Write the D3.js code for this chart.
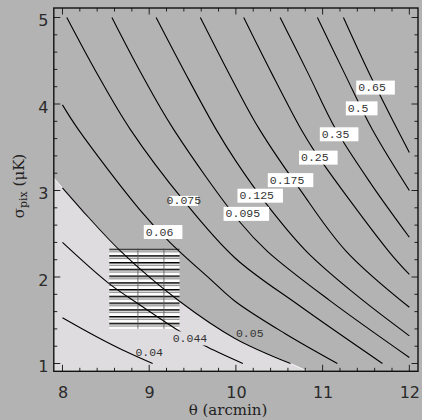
<!DOCTYPE html>
<html lang="en">
<head>
<meta charset="utf-8">
<title>sigma_pix vs theta contours</title>
<script src="https://cdn.jsdelivr.net/npm/d3@7"></script>
<style>
  body { margin: 0; background: #b3b3b3; }
  svg { display: block; }
  text { -webkit-font-smoothing: antialiased; }
</style>
</head>
<body>
<script>
// axis ranges and ticks
var thetaRange = [7.9, 12.1];
var sigmaRange = [0.91, 5.11];
var xTicks = [8, 9, 10, 11, 12];
var yTicks = [1, 2, 3, 4, 5];

// contour levels, and each line as [theta, sigma]
var levels = [0.04, 0.044, 0.05, 0.06, 0.075, 0.095, 0.125, 0.175, 0.25, 0.35, 0.5, 0.65];
var c040 = [[8.0,1.53],[8.23,1.40],[8.47,1.27],[8.75,1.13],[9.04,1.0]];
var c044 = [[8.0,2.40],[8.53,1.93],[8.89,1.68],[9.34,1.38],[9.63,1.21],[10.08,1.0]];
var c050 = [[8.0,3.03],[8.22,2.78],[8.67,2.30],[9.35,1.72],[9.99,1.29],[10.63,1.0]];
var c060 = [[8.0,3.99],[8.18,3.71],[8.89,2.78],[9.23,2.41],[9.71,1.97],[9.99,1.72],[10.56,1.35],[11.17,1.0]];
var c075 = [[8.05,5.0],[8.40,4.35],[8.78,3.71],[9.40,2.88],[9.99,2.22],[10.73,1.67],[11.69,1.0]];
var c095 = [[8.57,5.0],[8.91,4.35],[9.28,3.71],[10.05,2.63],[10.36,2.30],[11.08,1.73],[12.0,1.07]];
var c125 = [[9.08,5.0],[9.42,4.35],[9.77,3.71],[10.0,3.34],[10.34,2.86],[10.81,2.30],[11.39,1.79],[12.0,1.32]];
var c175 = [[9.59,5.0],[10.0,4.20],[10.27,3.71],[10.74,3.01],[11.27,2.30],[12.0,1.65]];
var c250 = [[10.09,5.0],[10.41,4.36],[10.75,3.71],[10.91,3.45],[11.76,2.30],[12.0,2.03]];
var c350 = [[10.51,5.0],[10.83,4.36],[11.15,3.71],[11.57,3.06],[12.0,2.46]];
var c500 = [[10.94,5.0],[11.25,4.36],[11.57,3.71],[12.0,3.0]];
var c650 = [[11.24,5.0],[11.54,4.35],[11.86,3.71],[12.0,3.44]];
var contourLines = [c040, c044, c050, c060, c075, c095, c125, c175, c250, c350, c500, c650];

// where each level's label sits (centre of text)
var labelTheta = [9.0, 9.47, 10.16, 9.12, 9.40, 10.08, 10.24, 10.59, 10.91, 11.15, 11.41, 11.57];
var labelSigma = [1.125, 1.29, 1.35, 2.52, 2.88, 2.73, 2.94, 3.12, 3.38, 3.65, 3.95, 4.19];

// the hatched box
var boxTheta = [8.54, 9.35];
var boxSigma = [1.40, 2.33];
var boxDividers = [8.87, 9.17];

var W = 422, H = 420;
var GRAY = "#b3b3b3", LIGHT = "#dfdcdf";

var svg = d3.select("body").append("svg").attr("width", W).attr("height", H);
svg.append("rect").attr("width", W).attr("height", H).attr("fill", GRAY);

var x = d3.scaleLinear().domain(thetaRange).range([53.8, 418]);
var y = d3.scaleLinear().domain(sigmaRange).range([371.3, 8]);

var defs = svg.append("defs");
defs.append("clipPath").attr("id", "frame").append("rect")
    .attr("x", x(thetaRange[0])).attr("y", y(sigmaRange[1]))
    .attr("width", x(thetaRange[1]) - x(thetaRange[0]))
    .attr("height", y(sigmaRange[0]) - y(sigmaRange[1]));

// horizontal hatch: black line, grey line, white gap
var period = 6.75;
var pat = defs.append("pattern").attr("id", "hatch")
    .attr("patternUnits", "userSpaceOnUse")
    .attr("width", 10).attr("height", period)
    .attr("y", y(boxSigma[1]));
pat.append("rect").attr("width", 10).attr("height", period).attr("fill", "#fff");
pat.append("rect").attr("width", 10).attr("height", 1.5).attr("fill", "#000");
pat.append("rect").attr("y", 2.7).attr("width", 10).attr("height", 1.2).attr("fill", "#8a8a8a");

var plot = svg.append("g").attr("clip-path", "url(#frame)");

var line = d3.line()
    .x(function(d) { return x(d[0]); })
    .y(function(d) { return y(d[1]); })
    .curve(d3.curveCatmullRom.alpha(0.5));

// light region below the 0.05 contour, carried out to the frame
var n = c050.length;
var sL = (c050[1][1] - c050[0][1]) / (c050[1][0] - c050[0][0]);
var leftPt = [thetaRange[0], c050[0][1] + sL * (thetaRange[0] - c050[0][0])];
var sB = (c050[n-1][1] - c050[n-2][1]) / (c050[n-1][0] - c050[n-2][0]);
var botPt = [c050[n-1][0] + (sigmaRange[0] - c050[n-1][1]) / sB, sigmaRange[0]];
var fillPath = "M" + x(leftPt[0]) + "," + y(leftPt[1]) +
    line(c050).replace(/^M/, "L") +
    "L" + x(botPt[0]) + "," + y(botPt[1]) +
    "L" + x(thetaRange[0]) + "," + y(sigmaRange[0]) + "Z";
plot.append("path").attr("d", fillPath)
    .attr("fill", LIGHT).attr("stroke", "#f6f5f6").attr("stroke-width", 1);

// hatched box
plot.append("rect")
    .attr("x", x(boxTheta[0])).attr("y", y(boxSigma[1]))
    .attr("width", x(boxTheta[1]) - x(boxTheta[0]))
    .attr("height", y(boxSigma[0]) - y(boxSigma[1]))
    .attr("fill", "url(#hatch)");
plot.selectAll("line.div").data(boxDividers).enter().append("line")
    .attr("x1", function(d) { return x(d); }).attr("x2", function(d) { return x(d); })
    .attr("y1", y(boxSigma[1])).attr("y2", y(boxSigma[0]))
    .attr("stroke", "#555").attr("stroke-width", 0.8);

// contour lines
plot.selectAll("path.contour").data(contourLines).enter().append("path")
    .attr("class", "contour")
    .attr("d", line)
    .attr("fill", "none").attr("stroke", "#000").attr("stroke-width", 1.1);

// labels: most sit on a white box
var noBox = [0.04, 0.05];
var lightBox = [0.044];
var labels = plot.append("g").style("opacity", 0.999)
    .selectAll("g.lab").data(levels).enter().append("g").attr("class", "lab");
labels.each(function(v, i) {
    var g = d3.select(this);
    var t = g.append("text")
        .attr("x", x(labelTheta[i])).attr("y", y(labelSigma[i]))
        .attr("text-anchor", "middle").attr("dominant-baseline", "central")
        .attr("font-family", "'Liberation Mono', 'DejaVu Sans Mono', monospace")
        .attr("font-size", "11.5px").attr("fill", "#333")
        .text(String(v));
    if (noBox.indexOf(v) >= 0) return;
    var w = t.node().getComputedTextLength();
    var x0 = x(labelTheta[i]) - w / 2 - 2, x1 = x(labelTheta[i]) + w / 2 + 9;
    var h = 14;
    if (v === 0.075) { x0 += 5; x1 -= 12; h = 10; }
    g.insert("rect", "text")
        .attr("x", x0).attr("y", y(labelSigma[i]) - h / 2)
        .attr("width", x1 - x0).attr("height", h)
        .attr("fill", lightBox.indexOf(v) >= 0 ? LIGHT : "#fff");
});

// frame and ticks on all four sides
var fx0 = x(thetaRange[0]), fx1 = x(thetaRange[1]);
var fy0 = y(sigmaRange[0]), fy1 = y(sigmaRange[1]);
var minorX = d3.range(80, 121, 2).map(function(d) { return d / 10; });
var minorY = d3.range(10, 51, 2).map(function(d) { return d / 10; });
var tk = svg.append("g").attr("stroke", "#222").attr("stroke-width", 1);
minorX.forEach(function(t) {
    var len = (Math.abs(t - Math.round(t)) < 1e-6) ? 6.5 : 3.5;
    tk.append("line").attr("x1", x(t)).attr("x2", x(t)).attr("y1", fy0).attr("y2", fy0 - len);
    tk.append("line").attr("x1", x(t)).attr("x2", x(t)).attr("y1", fy1).attr("y2", fy1 + len);
});
minorY.forEach(function(t) {
    var len = (Math.abs(t - Math.round(t)) < 1e-6) ? 6.5 : 3.5;
    tk.append("line").attr("y1", y(t)).attr("y2", y(t)).attr("x1", fx0).attr("x2", fx0 + len);
    tk.append("line").attr("y1", y(t)).attr("y2", y(t)).attr("x1", fx1).attr("x2", fx1 - len);
});
svg.append("rect").attr("x", fx0).attr("y", fy1)
    .attr("width", fx1 - fx0).attr("height", fy0 - fy1)
    .attr("fill", "none").attr("stroke", "#111").attr("stroke-width", 1.4);

// tick labels
svg.selectAll("text.xt").data(xTicks).enter().append("text")
    .attr("x", function(d) { return x(d) + 0.5; }).attr("y", 397.5)
    .attr("text-anchor", "middle")
    .attr("font-family", "'DejaVu Sans', sans-serif").attr("font-size", "16px")
    .attr("fill", "#2a2a2a").text(function(d) { return d; });
svg.selectAll("text.yt").data(yTicks).enter().append("text")
    .attr("x", 48.5).attr("y", function(d) { return y(d) + 8.5; })
    .attr("text-anchor", "end")
    .attr("font-family", "'DejaVu Sans', sans-serif").attr("font-size", "16px")
    .attr("fill", "#2a2a2a").text(function(d) { return d; });

// axis titles
svg.append("text").attr("x", 228).attr("y", 415)
    .attr("text-anchor", "middle")
    .attr("font-family", "'DejaVu Serif', serif").attr("font-size", "15px")
    .attr("fill", "#222").text("\u03b8 (arcmin)");
var yt = svg.append("text")
    .attr("transform", "translate(24,186) rotate(-90)")
    .attr("text-anchor", "middle")
    .attr("font-family", "'DejaVu Serif', serif").attr("font-size", "15px")
    .attr("fill", "#222");
yt.append("tspan").text("\u03c3");
yt.append("tspan").attr("font-size", "11px").attr("dy", 3).text("pix");
yt.append("tspan").attr("dy", -3).text(" (\u03bcK)");
</script>
</body>
</html>
